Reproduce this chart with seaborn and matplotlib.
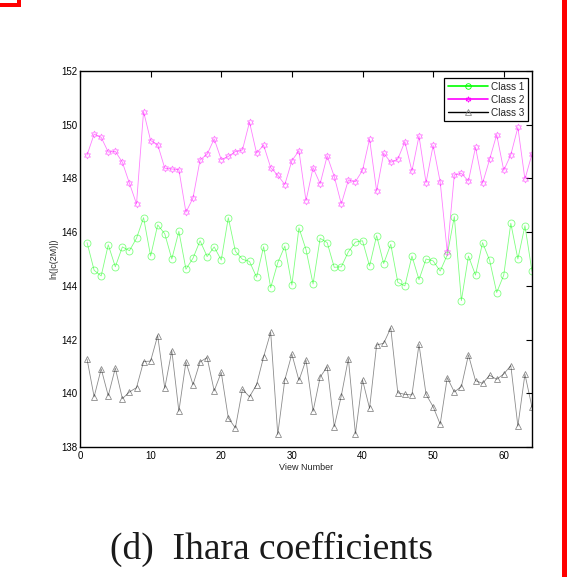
import numpy as np
import pandas as pd
import matplotlib
matplotlib.use("Agg")
import matplotlib.pyplot as plt
import seaborn as sns
from matplotlib.lines import Line2D
from matplotlib.patches import Rectangle

view = list(range(1, 65))
class1 = [145.61, 144.58, 144.37, 145.53, 144.71, 145.45, 145.31, 145.77, 146.54, 145.11,
          146.27, 145.94, 145.00, 146.03, 144.62, 145.03, 145.68, 145.09, 145.45, 144.96,
          146.54, 145.29, 144.99, 144.91, 144.32, 145.46, 143.93, 144.86, 145.48, 144.03,
          146.16, 145.35, 144.07, 145.77, 145.61, 144.69, 144.71, 145.27, 145.63, 145.68,
          144.74, 145.87, 144.83, 145.55, 144.13, 144.00, 145.11, 144.23, 145.00, 144.93,
          144.55, 145.15, 146.58, 143.45, 145.11, 144.40, 145.61, 144.95, 143.75, 144.40,
          146.33, 145.00, 146.24, 144.54]
class2 = [148.87, 149.65, 149.53, 148.98, 149.01, 148.60, 147.82, 147.05, 150.49, 149.41,
          149.26, 148.38, 148.35, 148.33, 146.74, 147.27, 148.69, 148.90, 149.47, 148.70,
          148.82, 149.00, 149.06, 150.10, 148.94, 149.24, 148.40, 148.12, 147.77, 148.66,
          149.03, 147.17, 148.40, 147.80, 148.84, 148.07, 147.05, 147.94, 147.88, 148.30,
          149.47, 147.53, 148.94, 148.60, 148.72, 149.37, 148.27, 149.58, 147.84, 149.23,
          147.87, 145.26, 148.13, 148.19, 147.90, 149.16, 147.82, 148.71, 149.63, 148.30,
          148.88, 149.90, 147.97, 148.91]
class3 = [141.27, 139.87, 140.91, 139.91, 140.94, 139.80, 140.05, 140.21, 141.18, 141.20,
          142.15, 140.19, 141.59, 139.33, 141.17, 140.32, 141.17, 141.33, 140.09, 140.78,
          139.08, 138.71, 140.15, 139.87, 140.32, 141.36, 142.27, 138.47, 140.50, 141.46,
          140.48, 141.24, 139.33, 140.60, 140.99, 138.76, 139.91, 141.29, 138.49, 140.50,
          139.44, 141.80, 141.86, 142.43, 140.02, 139.96, 139.94, 141.82, 139.96, 139.50,
          138.85, 140.58, 140.05, 140.25, 141.43, 140.47, 140.37, 140.67, 140.52, 140.72,
          141.03, 138.78, 140.71, 139.48]
labels = ["Class 1", "Class 2", "Class 3"]
x_ticks = [0, 10, 20, 30, 40, 50, 60]
y_ticks = [138, 140, 142, 144, 146, 148, 150, 152]

sns.set_style("white")
plt.rcParams["font.family"] = ["Liberation Sans", "DejaVu Sans"]

fig = plt.figure(figsize=(5.67, 5.77), dpi=100)
ax = fig.add_axes([80 / 567, 1 - 447 / 577, 452 / 567, 376 / 577])

colors = ["#00ff00", "#ff00ff", "#000000"]
markers = ["o", (6, 1, 0), "^"]
msizes = [5.0, 5.0, 5.0]
series = [class1, class2, class3]
for vals, c, m, ms in zip(series, colors, markers, msizes):
    df = pd.DataFrame({"view": view, "val": vals})
    sns.lineplot(data=df, x="view", y="val", ax=ax, color=c, marker=m,
                 markersize=ms, mfc="none", mec=c, mew=0.6, lw=0.6,
                 alpha=0.5 if c != "#000000" else 0.45, legend=False)

ax.set_xlim(0, 64)
ax.set_ylim(138, 152)
ax.set_xticks(x_ticks)
ax.set_yticks(y_ticks)
ax.tick_params(direction="in", top=True, right=True, length=4, width=0.8,
               labelsize=7, pad=3, colors="black")
ax.tick_params(axis="y", pad=2)
for s in ax.spines.values():
    s.set_color("black")
    s.set_linewidth(1.0)
ax.set_xlabel("View Number", fontsize=6.5, labelpad=1)
ax.set_ylabel("ln(|c(2M)|)", fontsize=6.5, labelpad=2)

handles = [Line2D([0], [0], color=c, marker=m, mfc="none", mec=c, lw=1.2,
                  markersize=4, mew=0.6) for c, m in zip(colors, markers)]
handles[2] = Line2D([0], [0], color="black", marker="^", mfc="none", mec="#888888",
                    lw=1.0, markersize=4, mew=0.6)
leg = ax.legend(handles, labels, loc="upper right", fontsize=7.2, frameon=True,
                fancybox=False, edgecolor="black", framealpha=1,
                borderpad=0.35, labelspacing=0.3, handlelength=4.0,
                handletextpad=0.35, borderaxespad=0.35,
                bbox_to_anchor=(0.9995, 0.99))
leg.get_frame().set_linewidth(0.9)

fig.text(272 / 567, 1 - 549 / 577, "(d)  Ihara coefficients", ha="center",
         va="center", fontsize=27, family=["Liberation Serif", "DejaVu Serif"],
         color="#1a1a1a")

fig.patches.append(Rectangle((562 / 567, 0), 5 / 567, 1, transform=fig.transFigure,
                             facecolor="#ff0000", edgecolor="none"))
fig.patches.append(Rectangle((0, 1 - 7 / 577), 21 / 567, 4 / 577,
                             transform=fig.transFigure, facecolor="#ff0000",
                             edgecolor="none"))
fig.patches.append(Rectangle((17 / 567, 1 - 5 / 577), 4 / 567, 5 / 577,
                             transform=fig.transFigure, facecolor="#ff0000",
                             edgecolor="none"))

fig.savefig("out.png", dpi=100, facecolor="white")
